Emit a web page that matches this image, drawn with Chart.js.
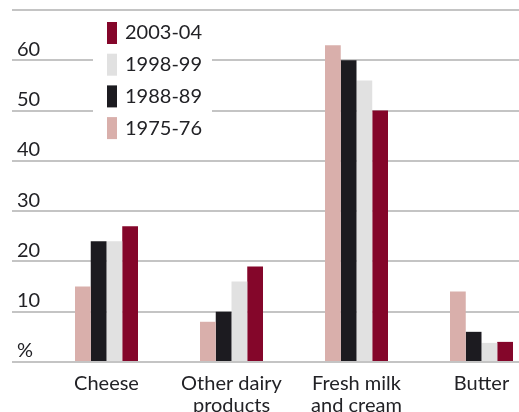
<!DOCTYPE html>
<html>
<head>
<meta charset="utf-8">
<script src="https://cdn.jsdelivr.net/npm/chart.js@4/dist/chart.umd.min.js"></script>
<style>
  html, body { margin: 0; padding: 0; background: #fff; overflow: hidden; }
  #wrap { width: 519px; height: 412px; overflow: hidden; position: relative; }
  #chart { display: block; }
</style>
</head>
<body>
<div id="wrap"><canvas id="chart" width="560" height="440"></canvas></div>
<script>
const categories = ['Cheese', ['Other dairy', 'products'], ['Fresh milk', 'and cream'], 'Butter'];
const years = ['1975-76', '1988-89', '1998-99', '2003-04'];
const colours = ['#d9afab', '#1c1b20', '#e1e1e1', '#84062a'];
const values1975 = [15, 8, 63, 14];
const values1988 = [24, 10, 60, 6];
const values1998 = [24, 16, 56, 3.8];
const values2003 = [27, 19, 50, 4];

const FONT = 'Lato, "Open Sans", sans-serif';
const TEXT = '#222226';
const GRID = '#c4c4c4';

// legend floats over the grid, newest period on top
const floatingLegend = {
    id: 'floatingLegend',
    afterDraw(chart) {
        const ctx = chart.ctx;
        const sets = chart.data.datasets.slice().reverse();
        ctx.save();
        ctx.fillStyle = '#fff';
        ctx.fillRect(93, 15, 119, 130);
        ctx.font = '20px ' + FONT;
        ctx.textBaseline = 'middle';
        ctx.textAlign = 'left';
        sets.forEach((ds, i) => {
            const top = 22 + i * 31.7;
            ctx.fillStyle = ds.backgroundColor;
            ctx.fillRect(107, top, 10, 22);
            ctx.fillStyle = TEXT;
            ctx.fillText(ds.label, 125, top + 11);
        });
        ctx.restore();
    }
};

const series = [values1975, values1988, values1998, values2003];

new Chart(document.getElementById('chart'), {
    type: 'bar',
    data: {
        labels: categories,
        datasets: series.map((vals, i) => ({
            label: years[i],
            data: vals,
            backgroundColor: colours[i],
            borderWidth: 0,
            barPercentage: 1,
            categoryPercentage: 0.504
        }))
    },
    options: {
        responsive: false,
        animation: false,
        layout: { padding: { left: 12, top: 10, right: 16 } },
        plugins: {
            legend: { display: false },
            tooltip: { enabled: false }
        },
        scales: {
            x: {
                grid: { display: false },
                border: { display: false },
                ticks: {
                    color: TEXT,
                    font: { family: FONT, size: 20, lineHeight: 1.08 },
                    padding: 3,
                    maxRotation: 0,
                    autoSkip: false
                },
                afterFit(scale) { scale.height = 78; }
            },
            y: {
                min: 0,
                max: 70,
                grid: {
                    color: GRID,
                    lineWidth: 2,
                    drawTicks: true,
                    tickLength: 32
                },
                border: { display: false },
                ticks: {
                    stepSize: 10,
                    mirror: true,
                    padding: -27,
                    labelOffset: -11,
                    color: TEXT,
                    font: { family: FONT, size: 20 },
                    callback: v => v === 0 ? '%' : (v === 70 ? '' : v)
                },
                afterFit(scale) { scale.width = 32; }
            }
        }
    },
    plugins: [floatingLegend]
});
</script>
</body>
</html>
